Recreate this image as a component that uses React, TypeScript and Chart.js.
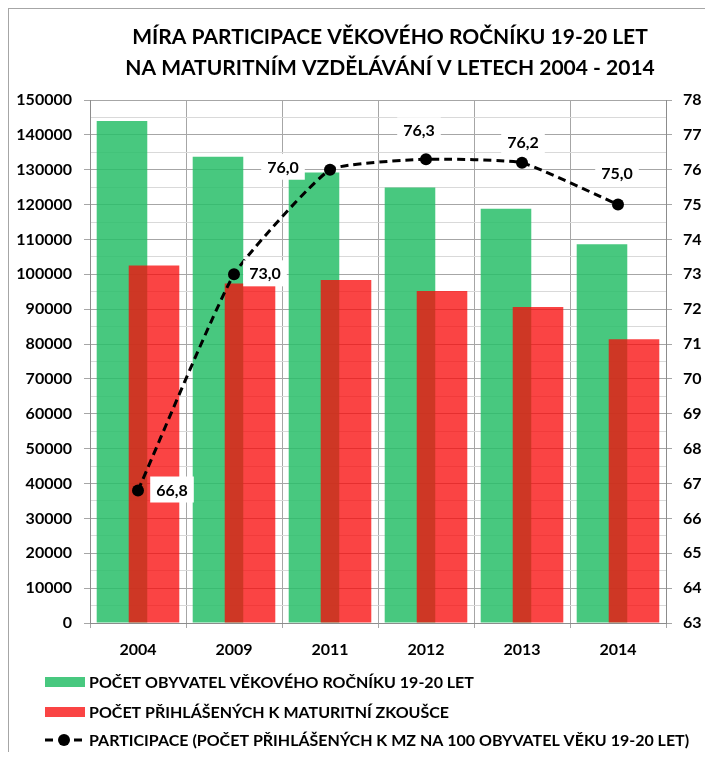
import React, { useEffect, useRef } from 'react';
import { Chart, registerables } from 'chart.js';

Chart.register(...registerables);

const categories = ['2004', '2009', '2011', '2012', '2013', '2014'];
const populationValues = [144000, 133700, 129200, 124900, 118800, 108600];
const applicantValues = [102500, 97400, 98400, 95200, 90600, 81400];
const participationValues = [66.8, 73.0, 76.0, 76.3, 76.2, 75.0];
const participationLabels = ['66,8', '73,0', '76,0', '76,3', '76,2', '75,0'];
const titleLines = [
  'MÍRA PARTICIPACE VĚKOVÉHO ROČNÍKU 19-20 LET',
  'NA MATURITNÍM VZDĚLÁVÁNÍ V LETECH 2004 - 2014',
];
const seriesNames = [
  'POČET OBYVATEL VĚKOVÉHO ROČNÍKU 19-20 LET',
  'POČET PŘIHLÁŠENÝCH K MATURITNÍ ZKOUŠCE',
  'PARTICIPACE (POČET PŘIHLÁŠENÝCH K MZ NA 100 OBYVATEL VĚKU 19-20 LET)',
];
const leftAxisRange = [0, 150000];
const rightAxisRange = [63, 78];

// styles
const FONT = 'Lato, "DejaVu Sans", sans-serif';
const GREEN = 'rgba(40,190,105,0.85)';
const RED = 'rgba(249,9,9,0.76)';
const GREEN_LEGEND = '#48c87f';
const RED_LEGEND = '#fa4444';
const labelOffsets = [
  [34, -1],
  [31, -1],
  [-47, -3],
  [-7, -29],
  [1, -21],
  [-1, -32],
];

const drawOrderPlugin = {
  id: 'drawOrder',
  beforeDatasetsDraw(chart: any) {
    [0, 1, 2].forEach((i) => {
      const meta = chart.getDatasetMeta(i);
      if (meta && meta.visible !== false) meta.controller.draw();
    });
    return false;
  },
};

const decorPlugin = {
  id: 'decor',
  afterDraw(chart: any) {
    const ctx = chart.ctx;
    ctx.save();
    // title
    ctx.fillStyle = '#000';
    ctx.font = `bold 21px ${FONT}`;
    ctx.textAlign = 'center';
    ctx.textBaseline = 'middle';
    ctx.fillText(titleLines[0], 381, 28);
    ctx.fillText(titleLines[1], 381, 59);

    // data labels
    const meta = chart.getDatasetMeta(2);
    ctx.font = `bold 16px ${FONT}`;
    meta.data.forEach((pt: any, i: number) => {
      const [dx, dy] = labelOffsets[i];
      const cx = pt.x + dx;
      const cy = pt.y + dy;
      const text = participationLabels[i];
      const w = ctx.measureText(text).width + 12;
      const h = 26;
      ctx.fillStyle = '#fff';
      ctx.fillRect(cx - w / 2, cy - h / 2, w, h);
      ctx.fillStyle = '#000';
      ctx.fillText(text, cx, cy + 1);
    });

    // legend
    const rows = [673, 703, 731];
    ctx.font = `bold 16px ${FONT}`;
    ctx.textAlign = 'left';
    ctx.fillStyle = GREEN_LEGEND;
    ctx.fillRect(36, rows[0] - 5, 40, 10);
    ctx.fillStyle = RED_LEGEND;
    ctx.fillRect(36, rows[1] - 5, 40, 10);
    ctx.strokeStyle = '#000';
    ctx.lineWidth = 3;
    ctx.beginPath();
    ctx.moveTo(36, rows[2]);
    ctx.lineTo(44, rows[2]);
    ctx.moveTo(65, rows[2]);
    ctx.lineTo(73, rows[2]);
    ctx.stroke();
    ctx.fillStyle = '#000';
    ctx.beginPath();
    ctx.arc(55, rows[2], 6, 0, Math.PI * 2);
    ctx.fill();
    seriesNames.forEach((name, i) => {
      ctx.fillStyle = '#000';
      ctx.fillText(name, 80, rows[i] + 1);
    });
    ctx.restore();
  },
};

export default function App() {
  const ref = useRef<HTMLCanvasElement | null>(null);

  useEffect(() => {
    if (!ref.current) return;
    const tickFont = { family: FONT, size: 16, weight: 'bold' as const };
    const chart = new Chart(ref.current, {
      type: 'bar',
      data: {
        labels: categories,
        datasets: [
          {
            type: 'bar',
            label: seriesNames[0],
            data: populationValues,
            backgroundColor: GREEN,
            borderWidth: 0,
            yAxisID: 'y',
            categoryPercentage: 0.667,
            barPercentage: 1.58,
          },
          {
            type: 'bar',
            label: seriesNames[1],
            data: applicantValues,
            backgroundColor: RED,
            borderWidth: 0,
            yAxisID: 'y',
            categoryPercentage: 0.667,
            barPercentage: 1.58,
          },
          {
            type: 'line',
            label: seriesNames[2],
            data: participationValues,
            borderColor: '#000',
            backgroundColor: '#000',
            borderWidth: 3,
            borderDash: [8, 5],
            pointRadius: 6,
            pointBackgroundColor: '#000',
            pointBorderWidth: 0,
            fill: false,
            tension: 0.14,
            yAxisID: 'y2',
          } as any,
        ],
      },
      options: {
        animation: false,
        responsive: true,
        maintainAspectRatio: false,
        layout: { padding: { top: 91, bottom: 89, left: 0, right: 0 } },
        plugins: {
          legend: { display: false },
          title: { display: false },
          tooltip: { enabled: false },
        },
        scales: {
          x: {
            grid: {
              offset: true,
              color: '#a6a6a6',
              tickLength: 5,
              drawTicks: true,
            },
            border: { color: '#8c8c8c' },
            ticks: { font: tickFont, color: '#000', padding: 12 },
            afterFit(s: any) {
              s.height = 40;
            },
          },
          y: {
            position: 'left',
            min: leftAxisRange[0],
            max: leftAxisRange[1],
            grid: {
              color: (c: any) =>
                c.tick && c.tick.value % 10000 === 0 ? '#a6a6a6' : '#d9d9d9',
              tickColor: (c: any) =>
                c.tick && c.tick.value % 10000 === 0 ? '#a6a6a6' : 'rgba(0,0,0,0)',
              tickLength: 6,
            },
            border: { color: '#8c8c8c' },
            ticks: {
              stepSize: 5000,
              autoSkip: false,
              font: tickFont,
              color: '#000',
              padding: 12,
              callback: (v: any) => (Number(v) % 10000 === 0 ? String(v) : ''),
            },
            afterFit(s: any) {
              s.width = 81;
            },
          },
          y2: {
            position: 'right',
            min: rightAxisRange[0],
            max: rightAxisRange[1],
            grid: {
              drawOnChartArea: false,
              tickLength: 6,
              tickColor: (c: any) =>
                c.tick && Number.isInteger(c.tick.value) ? '#a6a6a6' : 'rgba(0,0,0,0)',
            },
            border: { color: '#8c8c8c' },
            ticks: {
              stepSize: 0.5,
              autoSkip: false,
              font: tickFont,
              color: '#000',
              padding: 11,
              callback: (v: any) => (Number.isInteger(Number(v)) ? String(v) : ''),
            },
            afterFit(s: any) {
              s.width = 47;
            },
          },
        },
      },
      plugins: [drawOrderPlugin, decorPlugin],
    });
    return () => chart.destroy();
  }, []);

  return (
    <div
      style={{
        position: 'relative',
        width: 704,
        height: 743,
        borderTop: '1px solid #a6a6a6',
        borderLeft: '1px solid #a6a6a6',
        background: '#fff',
      }}
    >
      <canvas ref={ref} />
    </div>
  );
}
